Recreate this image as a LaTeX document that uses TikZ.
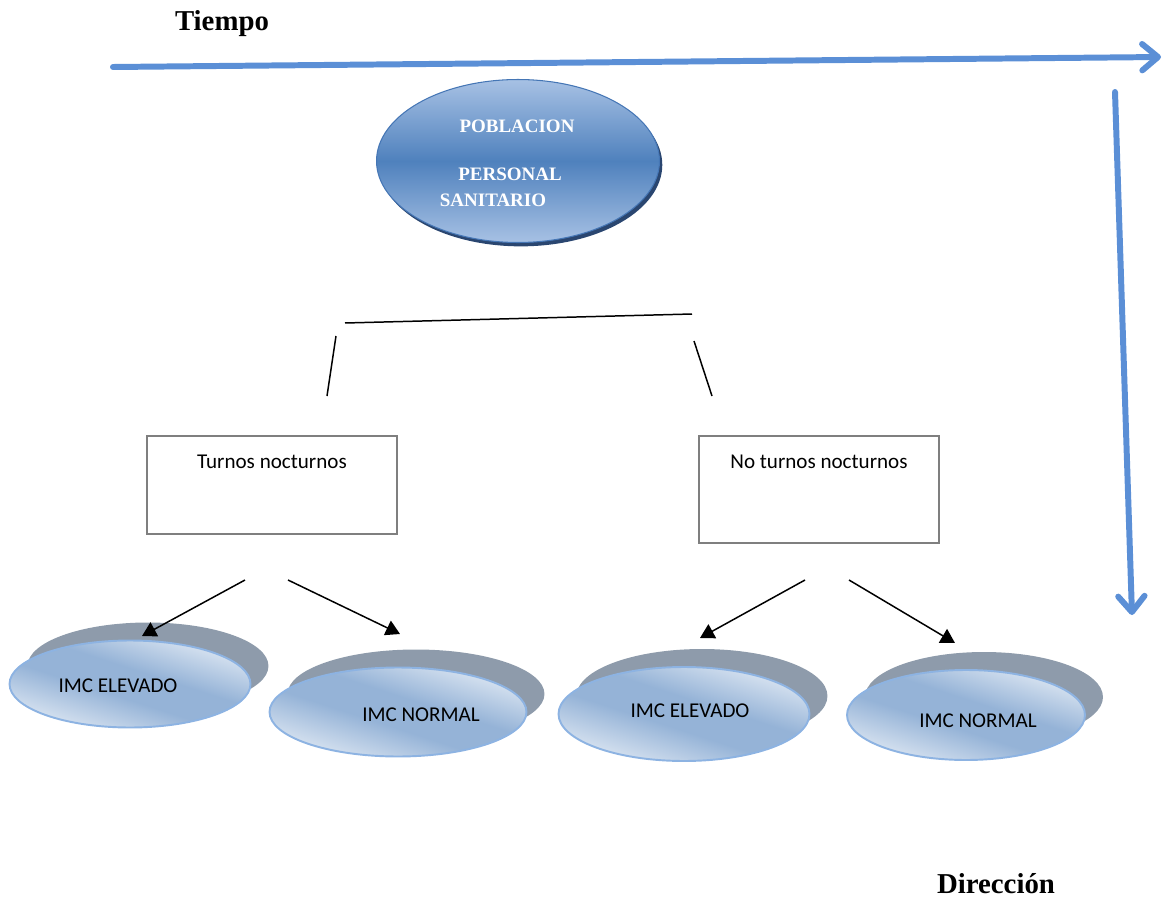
\documentclass[tikz,border=0pt]{standalone}
\usepackage{fontspec}
\setmainfont{Liberation Serif}
\newfontfamily\calibri{Carlito}
\usetikzlibrary{arrows.meta,shapes.geometric,shadows}
\definecolor{arrowblue}{HTML}{5B8FD6}
\definecolor{bigtop}{HTML}{A7C1E4}
\definecolor{bigmid}{HTML}{4F81BD}
\definecolor{bigborder}{HTML}{4576B5}
\definecolor{bigshadow}{HTML}{2A4670}
\definecolor{imcL}{HTML}{DCE6F2}
\definecolor{imcD}{HTML}{95B3D7}
\definecolor{imcborder}{HTML}{8DB3E2}
\definecolor{imcgray}{HTML}{8E9BAB}
\definecolor{boxgray}{HTML}{7F7F7F}
\pgfdeclarehorizontalshading{imcshade}{100bp}{color(0bp)=(imcL); color(25bp)=(imcL); color(44bp)=(imcD); color(56bp)=(imcD); color(75bp)=(imcL); color(100bp)=(imcL)}
\tikzset{
  bluearrow/.style={draw=arrowblue, line width=3.4pt, line cap=round,
    -{Straight Barb[length=9pt,width=15pt,round]}},
  thinline/.style={draw=black, line width=0.85pt},
  blackarrow/.style={thinline, -{Triangle[length=8pt,width=9pt]}},
  bigell/.style={ellipse, inner sep=0pt, outer sep=0pt, draw=bigborder, line width=0.6pt,
    top color=bigtop, bottom color=bigtop, middle color=bigmid,
    drop shadow={shadow xshift=1.6pt, shadow yshift=-2.2pt, fill=bigshadow, opacity=1}},
  imcell/.style={ellipse, inner sep=0pt, outer sep=0pt, draw=imcborder, line width=1.1pt,
    shading=imcshade, shading angle=72,
    drop shadow={shadow xshift=0.36cm, shadow yshift=0.36cm, fill=imcgray, opacity=1}},
  groupbox/.style={rectangle, draw=boxgray, line width=1.1pt, inner sep=0pt, outer sep=0pt},
  titletext/.style={font=\bfseries\fontsize{16.4}{19}\selectfont, inner sep=0pt},
  bigtext/.style={font=\bfseries\fontsize{10.8}{13}\selectfont, text=white, inner sep=0pt},
  sanstext/.style={font=\calibri\fontsize{12}{14}\selectfont, inner sep=0pt}
}
\begin{document}
\begin{tikzpicture}[x=0.02cm, y=-0.02cm]
\useasboundingbox (0,0) rectangle (1167,899);

% titles
\node[titletext] (tiempo) at (222,24) {Tiempo};
\node[titletext] (direccion) at (996,884) {Dirección};

% blue arrows
\coordinate (hstart) at (113,67);
\coordinate (hend) at (1161,57);
\coordinate (vstart) at (1115,92);
\coordinate (vend) at (1132,615);
\draw[bluearrow] (hstart) -- (hend);
\draw[bluearrow] (vstart) -- (vend);

% population ellipse
\node[bigell, minimum width=5.66cm, minimum height=3.26cm] (pob) at (518,161) {};
\node[bigtext] (pob1) at (517,126) {POBLACION};
\node[bigtext] (pob2) at (510,174) {PERSONAL};
\node[bigtext] (pob3) at (493,200) {SANITARIO};

% branching lines
\coordinate (bl) at (345,323);
\coordinate (br) at (692,314);
\coordinate (l1) at (336,336);
\coordinate (l2) at (327,396);
\coordinate (r1) at (694,341);
\coordinate (r2) at (712,396);
\draw[thinline] (bl) -- (br);
\draw[thinline] (l1) -- (l2);
\draw[thinline] (r1) -- (r2);

% boxes
\node[groupbox, minimum width=5.0cm, minimum height=1.96cm] (boxA) at (272,485) {};
\node[sanstext] (boxAt) at (272,462) {Turnos nocturnos};
\node[groupbox, minimum width=4.8cm, minimum height=2.14cm] (boxB) at (819,489.5) {};
\node[sanstext] (boxBt) at (819,462) {No turnos nocturnos};

% IMC ellipses
\node[imcell, minimum width=4.82cm, minimum height=1.74cm] (e1) at (130,684) {};
\node[sanstext] (e1t) at (118,686) {IMC ELEVADO};
\node[imcell, minimum width=5.14cm, minimum height=1.78cm] (e2) at (398,712) {};
\node[sanstext] (e2t) at (421,715) {IMC NORMAL};
\node[imcell, minimum width=5.02cm, minimum height=1.88cm] (e3) at (684,714) {};
\node[sanstext] (e3t) at (690,711) {IMC ELEVADO};
\node[imcell, minimum width=4.76cm, minimum height=1.80cm] (e4) at (966,715) {};
\node[sanstext] (e4t) at (978,721) {IMC NORMAL};

% black arrows
\coordinate (a1s) at (245,580);
\coordinate (a1e) at (142,636);
\coordinate (a2s) at (288,580);
\coordinate (a2e) at (400,634);
\coordinate (a3s) at (805,580);
\coordinate (a3e) at (700,638);
\coordinate (a4s) at (849,580);
\coordinate (a4e) at (955,643);
\draw[blackarrow] (a1s) -- (a1e);
\draw[blackarrow] (a2s) -- (a2e);
\draw[blackarrow] (a3s) -- (a3e);
\draw[blackarrow] (a4s) -- (a4e);
\end{tikzpicture}
\end{document}
